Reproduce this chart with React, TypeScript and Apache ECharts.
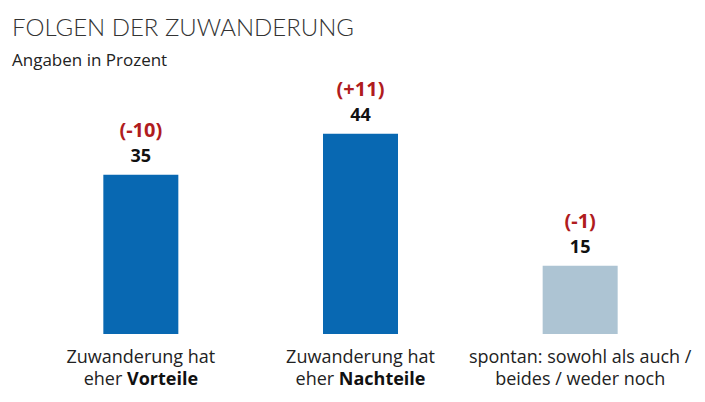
import React, { useEffect, useRef } from "react";
import * as echarts from "echarts";

const categories = [
  "Zuwanderung hat\neher {b|Vorteile}",
  "Zuwanderung hat\neher {b|Nachteile}",
  "spontan: sowohl als auch /\nbeides / weder noch",
];
const values = [35, 44, 15];
const changes = ["(-10)", "(+11)", "(-1)"];
const barColors = ["#0868b2", "#0868b2", "#adc4d3"];

export default function App() {
  const ref = useRef<HTMLDivElement>(null);

  useEffect(() => {
    if (!ref.current) return;
    const chart = echarts.init(ref.current, null, { renderer: "svg" });
    chart.setOption({
      animation: false,
      backgroundColor: "#ffffff",
      title: [
        {
          text: "FOLGEN DER ZUWANDERUNG",
          left: 12,
          top: 14,
          padding: 0,
          textStyle: {
            fontFamily: "Lato",
            fontWeight: 300,
            fontSize: 24,
            color: "#333333",
          },
        },
        {
          text: "Angaben in Prozent",
          left: 12,
          top: 51,
          padding: 0,
          textStyle: {
            fontFamily: "Open Sans",
            fontWeight: "normal",
            fontSize: 17,
            color: "#222222",
          },
        },
      ],
      grid: { left: 31, right: 15, top: 106.5, bottom: 68, containLabel: false },
      xAxis: {
        type: "category",
        data: categories,
        axisLine: { show: false },
        axisTick: { show: false },
        axisLabel: {
          interval: 0,
          margin: 11,
          fontFamily: "Open Sans",
          fontSize: 18,
          lineHeight: 22,
          color: "#222222",
          rich: {
            b: {
              fontFamily: "Open Sans",
              fontSize: 18,
              fontWeight: "bold",
              color: "#111111",
              lineHeight: 22,
            },
          },
        },
      },
      yAxis: {
        type: "value",
        min: 0,
        max: 50,
        show: false,
        splitLine: { show: false },
      },
      series: [
        {
          type: "bar",
          barWidth: 75,
          data: values.map((v, i) => ({
            value: v,
            itemStyle: { color: barColors[i] },
          })),
          label: {
            show: true,
            position: "top",
            distance: 8,
            formatter: (p: any) => `{c|${changes[p.dataIndex]}}\n{v|${p.value}}`,
            rich: {
              c: {
                fontFamily: "Open Sans",
                fontSize: 20,
                fontWeight: "bold",
                color: "#b01c1e",
                lineHeight: 27,
              },
              v: {
                fontFamily: "Open Sans",
                fontSize: 18,
                fontWeight: "bold",
                color: "#111111",
                lineHeight: 24,
              },
            },
          },
        },
      ],
    });
    return () => chart.dispose();
  }, []);

  return <div ref={ref} style={{ width: 705, height: 402, margin: -8 }} />;
}
